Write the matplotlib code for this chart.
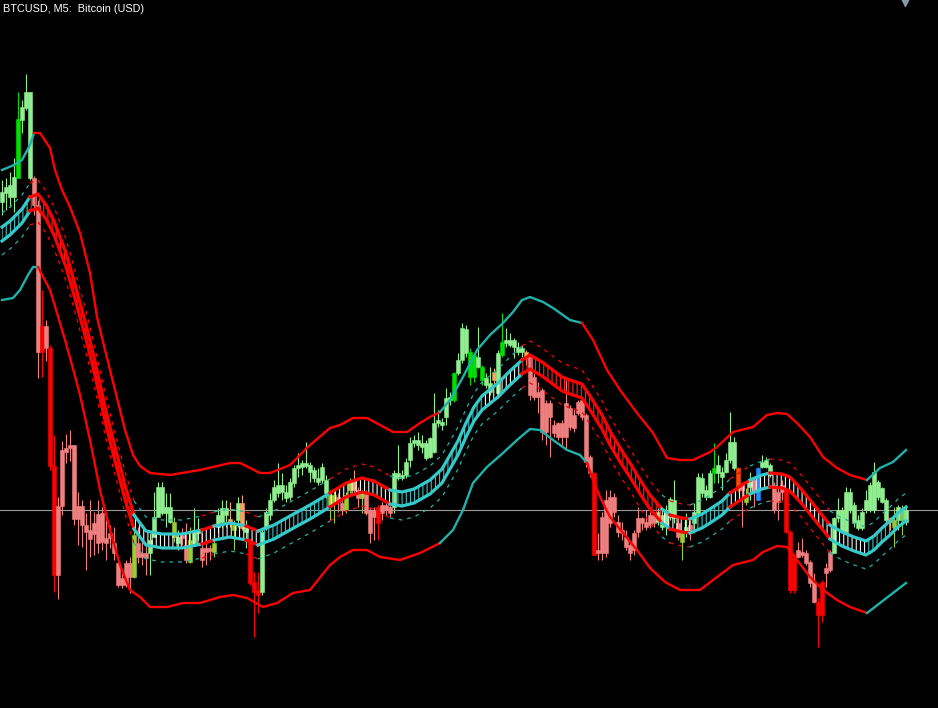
import numpy as np
import matplotlib
matplotlib.use("Agg")
import matplotlib.pyplot as plt

# ---------------- candle data (price units, arbitrary scale) ----------------
opens = [506,515,511,511,530,588,600,530,530,503,
         382,382,360,242,202,258,260,263,263,202,
         202,183,178,185,194,195,170,175,165,145,
         130,145,145,131,165,155,155,155,171,191,
         195,195,186,171,165,173,163,146,165,175,
         160,160,160,156,181,186,193,189,178,188,
         205,176,168,126,118,116,181,193,208,215,
         216,210,211,225,240,241,242,236,230,226,
         228,215,203,205,211,205,198,218,228,218,
         210,215,198,198,201,203,203,201,201,230,
         230,233,248,265,263,261,250,251,256,285,
         283,291,308,308,335,348,355,331,331,341,
         328,323,316,336,315,353,365,363,361,356,
         356,356,351,331,316,318,305,305,283,285,
         285,305,300,293,306,308,293,251,235,158,
         191,208,211,211,186,178,171,163,175,190,
         190,186,193,193,186,181,183,191,190,185,
         166,176,183,185,195,215,211,211,235,235,
         231,236,248,240,240,223,206,221,228,208,
         241,241,233,223,216,223,218,176,150,158,
         156,155,146,126,106,126,140,156,155,190,
         176,176,198,185,180,180,198,198,198,211,
         206,188,190,181,188,188,186]
highs = [528,530,536,550,616,608,634,616,532,508,
         418,388,363,273,211,267,274,278,263,216,
         208,195,208,196,208,201,188,183,181,151,
         138,148,151,181,181,168,163,175,216,226,
         226,215,215,191,178,180,185,181,200,190,
         175,168,163,173,200,208,208,206,188,211,
         213,188,170,136,136,181,200,215,228,245,
         235,223,230,243,255,248,266,246,241,240,
         245,233,218,218,215,211,216,230,238,221,
         218,218,201,201,203,206,208,205,238,263,
         238,250,271,273,276,273,268,271,315,298,
         290,320,316,336,355,385,383,360,355,381,
         343,335,341,340,358,395,380,375,370,366,
         363,358,353,335,326,320,308,308,288,286,
         288,328,303,300,308,311,295,253,236,175,
         196,218,218,215,193,186,178,168,178,201,
         191,198,196,196,200,198,203,211,228,191,
         178,195,190,205,235,235,223,238,265,253,
         241,255,296,271,241,226,220,236,231,241,
         253,251,245,226,220,228,220,178,155,166,
         170,158,148,135,110,128,145,158,191,210,
         201,221,220,206,193,200,218,226,246,228,
         221,210,191,201,203,203,203]
lows = [493,498,501,496,530,575,598,528,493,330,
        331,347,238,116,109,193,245,247,183,163,
        161,138,151,153,155,158,148,160,148,121,
        120,121,115,130,145,143,133,133,171,191,
        193,181,185,166,158,163,145,145,163,168,
        141,143,148,151,175,181,181,181,158,181,
        178,160,123,71,95,113,178,188,206,211,
        208,206,208,221,231,233,240,226,226,223,
        225,210,188,185,196,193,195,215,213,201,
        195,193,165,168,168,188,193,191,195,228,
        228,230,241,261,258,255,248,250,255,281,
        278,283,303,306,333,345,351,323,326,340,
        323,320,313,323,310,351,361,361,350,353,
        351,343,308,308,295,268,263,251,271,268,
        261,258,278,276,293,288,241,231,153,148,
        148,151,181,191,171,168,158,148,153,171,
        178,178,180,181,183,178,173,188,185,168,
        148,171,168,175,191,211,208,210,225,225,
        218,235,245,238,216,181,203,208,201,208,
        240,240,231,195,188,208,175,115,115,150,
        151,143,121,105,61,86,121,136,155,186,
        175,175,195,181,178,178,195,196,195,208,
        205,186,178,161,178,173,183]
closes = [516,521,523,531,589,601,616,616,503,356,
          356,360,242,133,133,202,256,260,189,189,
          183,176,169,174,165,166,165,170,155,123,
          123,123,131,173,151,151,150,168,191,221,
          221,201,201,186,171,170,148,168,178,178,
          148,156,157,165,193,200,200,185,183,205,
          180,181,125,116,113,176,196,208,221,223,
          223,216,226,240,243,245,245,243,238,230,
          241,228,213,213,206,198,213,226,218,210,
          215,195,175,191,185,195,198,195,235,235,
          233,246,265,268,268,265,265,270,285,288,
          286,310,311,335,348,380,379,356,353,351,
          341,330,325,328,355,366,368,368,368,361,
          360,350,313,311,311,276,276,291,275,271,
          271,271,281,280,295,291,246,235,153,155,
          155,155,185,196,176,175,161,155,158,176,
          185,181,183,185,196,193,196,209,208,171,
          175,181,178,196,231,230,218,235,240,243,
          236,248,266,266,218,218,213,226,216,240,
          246,248,243,198,206,216,176,118,118,151,
          153,145,125,106,93,93,135,138,190,198,
          198,216,216,203,188,196,208,223,236,226,
          220,208,186,188,201,198,198]
# candle colour class per bar
kinds = list("GGGGLGGG" "PPRPRR" "PPPPPPPPPPPPPPPPPPP" "Y" "PPP" "GGGGGG" "Y" "G" "PP" "Y"
             "GG" "PPP" "Y" "GGG" "SYGSG" "RRR" "GGGGGGGGGGGGGGGGG" "YYPPYYSPY" "PPP" "R"
             "PPP" "GGGGGGGGGGGGGGG" "LGGGLLGLGGSGL" "GGGGG" "S" "PPPPPPPPPPPPPPPP" "R"
             "PPPPPPPPPPPPPPP" "GGGGG" "PYGP" "GGGGG" "L" "GGGGG" "OPYGPB" "GGG" "PPP" "RRR"
             "PPPPP" "RR" "PP" "GGGGGGGGGGGGGG" "SYGYG")

# ---------------- indicator: MA ribbon (knots at bar index) ----------------
rib_k = [0,2,5,7,9,11,13,16,18,21,23,26,28,31,33,36,40,45,50,53,57,61,64,68,72,77,82,86,90,93,
         97,100,103,107,110,112,114,116,118,120,124,127,130,132,135,137,140,142,145,147,150,152,
         155,157,160,162,165,167,170,172,175,177,180,182,185,187,190,192,195,197,200,202,205,207,
         210,213,216,218,220,222,224,226]
rib_hi = [481,487,499,511,514,503,487,455,427,383,351,297,265,219,193,177,174,174,178,182,
          185,182,177,183,192,203,215,225,230,227,218,216,219,228,239,253,267,285,301,312,
          325,337,348,353,346,340,331,328,324,312,293,277,257,245,225,213,199,193,190,189,
          194,199,207,215,223,228,233,235,234,231,218,208,193,183,176,171,167,172,180,187,195,201]
rib_lo = [467,473,485,497,500,489,473,441,413,369,337,283,251,205,179,163,160,160,164,168,
          171,168,163,169,178,189,201,211,216,213,204,202,205,214,225,239,253,271,287,298,
          311,323,334,339,332,326,317,314,310,298,279,263,243,231,211,199,185,179,176,175,
          180,185,193,201,209,214,219,221,220,217,204,194,179,169,162,157,153,158,166,173,181,187]
dash_hi = [495,501,513,525,528,517,501,469,441,397,365,311,279,233,207,191,188,188,192,196,
           199,196,191,197,206,217,229,239,244,241,232,230,233,242,253,267,281,299,315,326,
           339,351,362,367,360,354,345,342,338,326,307,291,271,259,239,227,213,207,204,203,
           208,213,221,229,237,242,247,249,248,245,232,222,207,197,190,185,181,186,194,201,209,215]
dash_lo = [453,459,471,483,486,475,459,427,399,355,323,269,237,191,165,149,146,146,150,154,
           157,154,149,155,164,175,187,197,202,199,190,188,191,200,211,225,239,257,273,284,
           297,309,320,325,318,312,303,300,296,284,265,249,229,217,197,185,171,165,162,161,
           166,171,179,187,195,200,205,207,206,203,190,180,165,155,148,143,139,144,152,159,167,173]
# ribbon trend segments: (start bar, trend, hatch colour class)
rib_segs = [(0,"up","c"),(8,"dn","r"),(33,"up","w"),(44,"dn","w"),(47,"up","w"),(50,"dn","w"),
            (53,"up","w"),(61,"dn","w"),(66,"up","c"),(81,"dn","w"),(97,"up","c"),(120,"up","w"),
            (131,"dn","r"),(164,"up","w"),(168,"dn","w"),(173,"up","c"),(183,"dn","w"),
            (188,"up","w"),(192,"dn","w"),(207,"up","w"),(216,"up","c")]

# ---------------- indicator: outer envelope ----------------
up_k = [0,3,5,7,8,9.5,12,13.25,15,17,19.5,22,23.75,25.75,28.25,30.75,32.75,34.5,37,42,49.5,57,
        59.5,64.5,67,72,77,82,84.5,87.75,91.25,94.5,97.75,101.25,104.5,107,109.5,112,115.25,
        118.75,122,125.25,127.75,130,132,135.25,137.75,142,145,147.75,151.25,154.5,158.75,
        162.75,166.25,169.5,172.75,177,178.75,182.75,187.75,191.25,193.75,196.25,198.75,202,
        205.25,208.75,212,216.25,219.5,222.75,226]
up_v = [538,543,548,563,575,575,560,538,518,501,475,435,391,358,318,278,253,242,235,233,238,245,
        245,235,235,243,263,280,283,290,290,283,276,276,285,291,296,308,331,358,373,385,396,408,
        411,406,400,388,385,368,338,318,295,275,250,248,248,256,261,276,281,293,295,294,285,271,
        251,240,233,228,240,246,258]
lo_k = [0,2.75,4.5,6.5,7.75,9,12,13.75,15.75,17.5,19.5,22,24.5,27,29.5,32,34.5,37,41.25,45.25,
        49.5,54.5,57.75,61.25,65.25,68.75,72.75,77,82,84.5,87.75,91.25,94.5,99.5,104.5,109.5,
        112.75,115.25,117.75,121.25,125.25,128.75,132,134.5,137.75,141.25,144.5,146.25,147.75,
        149.5,152,155.25,158.75,162,165.75,169.5,174.5,178.75,182.75,187.75,190.25,193.75,
        196.25,198.75,202,205.25,208.75,212,216.25,219.5,222.75,226]
lo_v = [408,410,418,433,441,441,418,395,368,343,313,268,218,178,143,118,111,101,101,105,105,111,
        113,110,101,105,115,118,143,151,158,158,151,148,155,165,178,198,225,241,255,268,279,278,
        268,258,253,245,228,211,191,175,158,140,126,118,118,131,143,148,156,162,161,148,131,118,
        108,101,95,105,115,125]
band_segs = [(0,"up"),(8.5,"dn"),(110,"up"),(145.5,"dn"),(216.5,"up")]

title = "BTCUSD, M5:  Bitcoin (USD)"

# ---------------- styling ----------------
kind_colors = {"G": "#90EE90", "P": "#F08080", "L": "#00E000", "R": "#FF0000",
               "Y": "#9ACD32", "S": "#F4A460", "B": "#1E90FF", "O": "#FF4500"}
rib_colors = {"up": "#36C9C9", "dn": "#FF0000"}
band_colors = {"up": "#20B2AA", "dn": "#FF0000"}
hatch_colors = {"c": "#3CC8C8", "w": "#FFFFFF", "r": "#FF2A2A"}

plt.rcParams["hatch.linewidth"] = 0.75

fig = plt.figure(figsize=(9.38, 7.08), dpi=100, facecolor="black")
ax = fig.add_axes([0, 0, 1, 1])
ax.set_facecolor("black")
ax.set_xlim(-0.5, 234)
ax.set_ylim(0, 708)
ax.axis("off")


def seg_at(segs, k):
    cur = segs[0]
    for s in segs:
        if k >= s[0]:
            cur = s
    return cur


def colored_line(ks, vs, segs, colors, **kw):
    run_x, run_y, cur = [ks[0]], [vs[0]], None
    for i in range(len(ks) - 1):
        st = seg_at(segs, (ks[i] + ks[i + 1]) / 2)[1]
        if cur is None:
            cur = st
        if st != cur:
            ax.plot(run_x, run_y, color=colors[cur], **kw)
            run_x, run_y, cur = [ks[i]], [vs[i]], st
        run_x.append(ks[i + 1])
        run_y.append(vs[i + 1])
    ax.plot(run_x, run_y, color=colors[cur], **kw)


# candles
x = np.arange(len(closes))
o = np.array(opens, float)
c = np.array(closes, float)
cols = [kind_colors[k] for k in kinds]
ax.vlines(x, lows, highs, colors=cols, lw=0.8, zorder=2)
body_lo = np.minimum(o, c)
body_h = np.maximum(np.abs(c - o), 1.5)
ax.bar(x, body_h, bottom=body_lo, width=0.8, color=cols, edgecolor=cols, linewidth=0.4,
       zorder=3)

# bid line
ax.axhline(closes[-1], color="#9A9A9A", lw=0.8, zorder=2.5)

# outer envelope
colored_line(up_k, up_v, band_segs, band_colors, lw=1.7, zorder=5, solid_joinstyle="round")
colored_line(lo_k, lo_v, band_segs, band_colors, lw=1.7, zorder=5, solid_joinstyle="round")

# ribbon hatch
for i in range(len(rib_k) - 1):
    s = seg_at(rib_segs, (rib_k[i] + rib_k[i + 1]) / 2)
    ax.fill_between(rib_k[i:i + 2], rib_lo[i:i + 2], rib_hi[i:i + 2], facecolor="none",
                    edgecolor=hatch_colors[s[2]], hatch="||||", linewidth=0, zorder=4)

# dashed guide lines
colored_line(rib_k, dash_hi, rib_segs, band_colors, lw=0.9, ls=(0, (3, 4)), zorder=5)
colored_line(rib_k, dash_lo, rib_segs, band_colors, lw=0.9, ls=(0, (3, 4)), zorder=5)

# ribbon lines
colored_line(rib_k, rib_hi, rib_segs, rib_colors, lw=2.3, zorder=6, solid_joinstyle="round")
colored_line(rib_k, rib_lo, rib_segs, rib_colors, lw=2.3, zorder=6, solid_joinstyle="round")

# title and shift marker
fig.text(3 / 938, 1 - 9 / 708, title, color="white", fontsize=7.8,
         family=["Liberation Sans", "DejaVu Sans"], ha="left", va="center")
ax.plot([905 / 938], [1.0], marker="v", ms=8, color="#8A96A3", transform=fig.transFigure,
        clip_on=False, zorder=10)

fig.savefig("out.png", dpi=100, facecolor="black")
